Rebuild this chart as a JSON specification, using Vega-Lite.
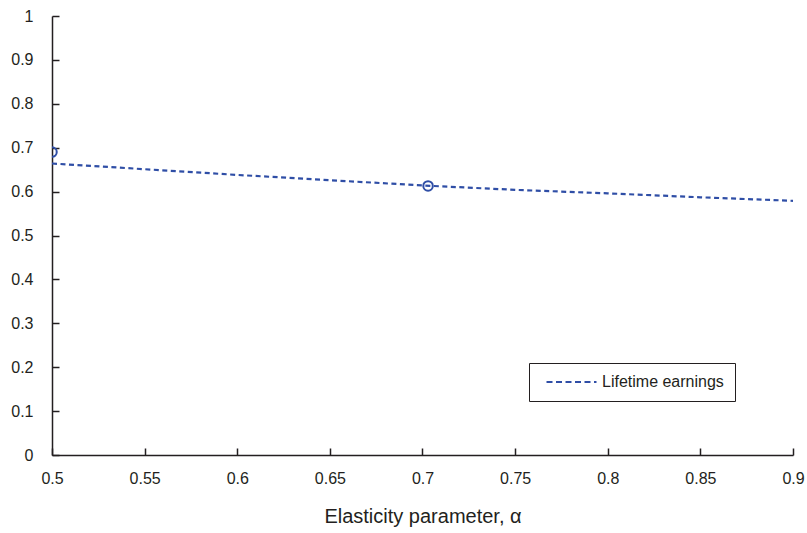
{
  "$schema": "https://vega.github.io/schema/vega-lite/v6.json",
  "width": 741,
  "height": 439,
  "autosize": {"type": "none"},
  "padding": {"left": 52, "top": 16, "right": 14, "bottom": 78},
  "background": "white",
  "config": {
    "font": "Liberation Sans",
    "view": {"stroke": null},
    "axis": {
      "domainColor": "#231f20",
      "domainWidth": 1.5,
      "tickColor": "#231f20",
      "tickWidth": 1.5,
      "tickSize": -7,
      "grid": false,
      "labelFlush": false,
      "labelOverlap": false,
      "labelFont": "Liberation Sans",
      "labelFontSize": 16,
      "labelColor": "#231f20",
      "titleFont": "Liberation Sans",
      "titleFontSize": 20,
      "titleFontWeight": "normal",
      "titleColor": "#231f20"
    }
  },
  "datasets": {
    "line": [
      {"alpha": 0.5, "value": 0.664, "series": "Lifetime earnings"},
      {"alpha": 0.55, "value": 0.651, "series": "Lifetime earnings"},
      {"alpha": 0.6, "value": 0.638, "series": "Lifetime earnings"},
      {"alpha": 0.65, "value": 0.626, "series": "Lifetime earnings"},
      {"alpha": 0.7, "value": 0.614, "series": "Lifetime earnings"},
      {"alpha": 0.75, "value": 0.604, "series": "Lifetime earnings"},
      {"alpha": 0.8, "value": 0.596, "series": "Lifetime earnings"},
      {"alpha": 0.85, "value": 0.587, "series": "Lifetime earnings"},
      {"alpha": 0.9, "value": 0.579, "series": "Lifetime earnings"}
    ],
    "points": [
      {"alpha": 0.5, "value": 0.69},
      {"alpha": 0.703, "value": 0.613}
    ]
  },
  "layer": [
    {
      "data": {"name": "line"},
      "mark": {"type": "line", "strokeDash": [5, 3.5], "strokeWidth": 2.2},
      "encoding": {
        "x": {
          "field": "alpha", "type": "quantitative",
          "scale": {"domain": [0.5, 0.9], "nice": false, "zero": false},
          "axis": {
            "values": [0.5, 0.55, 0.6, 0.65, 0.7, 0.75, 0.8, 0.85, 0.9],
            "format": "~g",
            "title": "Elasticity parameter, α",
            "labelPadding": 22,
            "titlePadding": 20
          }
        },
        "y": {
          "field": "value", "type": "quantitative",
          "scale": {"domain": [0, 1], "nice": false},
          "axis": {
            "values": [0, 0.1, 0.2, 0.3, 0.4, 0.5, 0.6, 0.7, 0.8, 0.9, 1],
            "format": "~g",
            "title": null,
            "labelPadding": 26
          }
        },
        "color": {
          "field": "series", "type": "nominal",
          "scale": {"range": ["#2f4ea6"]},
          "legend": {
            "title": null,
            "orient": "none",
            "legendX": 477,
            "legendY": 347,
            "strokeColor": "#231f20",
            "fillColor": "white",
            "padding": 11,
            "symbolOffset": 5,
            "symbolType": "stroke",
            "symbolSize": 2500,
            "clipHeight": 16,
            "symbolStrokeWidth": 2.2,
            "symbolDash": [6, 3.5],
            "labelOffset": 4,
            "labelFontSize": 16,
            "labelColor": "#231f20",
            "labelFont": "Liberation Sans"
          }
        }
      }
    },
    {
      "data": {"name": "points"},
      "mark": {"type": "point", "shape": "circle", "size": 90, "strokeWidth": 2, "opacity": 1, "color": "#2f4ea6", "clip": true},
      "encoding": {
        "x": {"field": "alpha", "type": "quantitative"},
        "y": {"field": "value", "type": "quantitative"}
      }
    }
  ]
}
